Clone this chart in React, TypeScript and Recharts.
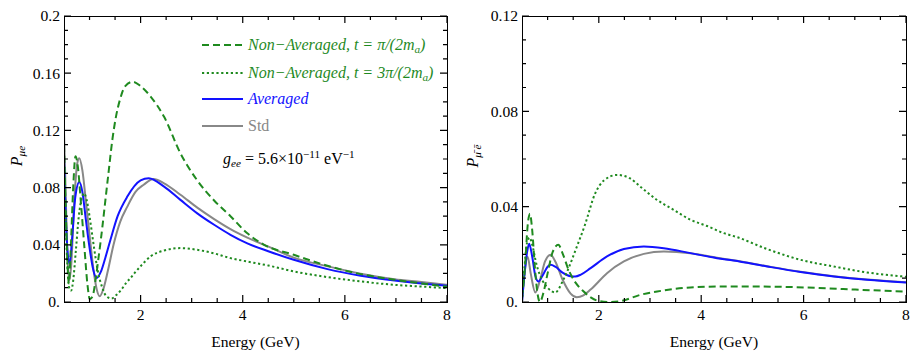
import React from 'react';
import { LineChart, Line, XAxis, YAxis } from 'recharts';

type Pt = [number, number];

// axis ticks
const energyTicks = [2, 4, 6, 8];
const energyMinorTicks = [1, 1.5, 2.5, 3, 3.5, 4.5, 5, 5.5, 6.5, 7, 7.5];
const leftPTicks = [0, 0.04, 0.08, 0.12, 0.16, 0.2];
const leftPMinorTicks = [0.01, 0.02, 0.03, 0.05, 0.06, 0.07, 0.09, 0.1, 0.11, 0.13, 0.14, 0.15, 0.17, 0.18, 0.19];
const rightPTicks = [0, 0.04, 0.08, 0.12];
const rightPMinorTicks = [0.01, 0.02, 0.03, 0.05, 0.06, 0.07, 0.09, 0.1, 0.11];

// left panel, P_mu e  [energy GeV, probability]
const leftNonAvg1: Pt[] = [
  [0.5, 0.11], [0.53, 0.07], [0.56, 0.035], [0.594, 0.013], [0.63, 0.035], [0.68, 0.08], [0.725, 0.102],
  [0.77, 0.095], [0.83, 0.07], [0.9, 0.038], [0.96, 0.012], [1.006, 0.002], [1.06, 0.004], [1.12, 0.016],
  [1.18, 0.032], [1.25, 0.052], [1.31, 0.071], [1.38, 0.093], [1.445, 0.113], [1.52, 0.13], [1.6, 0.142],
  [1.7, 0.151], [1.85, 0.154], [2.0, 0.151], [2.2, 0.1435], [2.46, 0.1295], [2.78, 0.104], [3.11, 0.085],
  [3.44, 0.071], [3.76, 0.06], [4.09, 0.048], [4.42, 0.04], [5.0, 0.033], [5.66, 0.0253], [6.31, 0.0195],
  [6.97, 0.0156], [7.5, 0.013], [8.0, 0.0107],
];
const leftNonAvg3: Pt[] = [
  [0.5, 0.095], [0.53, 0.06], [0.56, 0.03], [0.6, 0.01], [0.64, 0.008], [0.68, 0.015], [0.73, 0.035],
  [0.79, 0.06], [0.85, 0.073], [0.89, 0.076], [0.94, 0.072], [1.0, 0.06], [1.08, 0.04], [1.16, 0.022],
  [1.25, 0.01], [1.33, 0.004], [1.43, 0.0025], [1.53, 0.005], [1.63, 0.009], [1.72, 0.0135], [1.8, 0.0167],
  [1.9, 0.021], [2.0, 0.025], [2.2, 0.032], [2.46, 0.036], [2.78, 0.0377], [3.11, 0.0365], [3.44, 0.034],
  [3.76, 0.0307], [4.09, 0.0283], [4.5, 0.0255], [5.0, 0.0214], [5.66, 0.0174], [6.31, 0.0144],
  [6.97, 0.012], [7.5, 0.0108], [8.0, 0.0097],
];
const leftAveraged: Pt[] = [
  [0.5, 0.1], [0.53, 0.065], [0.57, 0.035], [0.61, 0.027], [0.66, 0.045], [0.72, 0.073], [0.8, 0.084],
  [0.86, 0.077], [0.93, 0.057], [1.0, 0.038], [1.07, 0.023], [1.14, 0.0167], [1.22, 0.021], [1.31, 0.031],
  [1.41, 0.0435], [1.55, 0.06], [1.74, 0.0737], [2.0, 0.085], [2.16, 0.0865], [2.46, 0.0807], [2.78, 0.0714],
  [3.11, 0.062], [3.44, 0.054], [3.76, 0.047], [4.09, 0.041], [4.5, 0.0355], [5.0, 0.0295], [5.66, 0.023],
  [6.31, 0.0184], [6.97, 0.0151], [7.5, 0.013], [8.0, 0.0114],
];
const leftStd: Pt[] = [
  [0.5, 0.12], [0.53, 0.08], [0.56, 0.04], [0.6, 0.015], [0.64, 0.025], [0.7, 0.07], [0.76, 0.097],
  [0.8, 0.1005], [0.86, 0.092], [0.93, 0.07], [1.0, 0.047], [1.08, 0.022], [1.14, 0.009], [1.2, 0.004],
  [1.27, 0.009], [1.36, 0.022], [1.47, 0.04], [1.6, 0.056], [1.74, 0.0667], [1.9, 0.077], [2.06, 0.082],
  [2.25, 0.086], [2.46, 0.083], [2.78, 0.075], [3.11, 0.066], [3.44, 0.058], [3.76, 0.051], [4.09, 0.045],
  [4.55, 0.038], [5.0, 0.031], [5.66, 0.025], [6.31, 0.0198], [6.97, 0.016], [7.5, 0.014], [8.0, 0.012],
];

// right panel
const rightNonAvg1: Pt[] = [
  [0.5, 0.002], [0.56, 0.015], [0.61, 0.032], [0.655, 0.037], [0.7, 0.03], [0.75, 0.015], [0.8, 0.004],
  [0.85, 0.0], [0.92, 0.004], [1.0, 0.012], [1.1, 0.021], [1.21, 0.024], [1.3, 0.02], [1.4, 0.014],
  [1.55, 0.008], [1.7, 0.0045], [1.85, 0.0018], [2.0, 0.0004], [2.2, 0.0], [2.45, 0.0005], [2.81, 0.003],
  [3.14, 0.0044], [3.79, 0.0061], [4.44, 0.0065], [5.0, 0.0065], [5.71, 0.0063], [6.5, 0.0057],
  [7.01, 0.0052], [8.0, 0.0044],
];
const rightNonAvg3: Pt[] = [
  [0.5, 0.0], [0.55, 0.015], [0.6, 0.025], [0.65, 0.027], [0.7, 0.024], [0.78, 0.016], [0.9, 0.009],
  [1.0, 0.006], [1.15, 0.004], [1.3, 0.009], [1.41, 0.0142], [1.55, 0.022], [1.73, 0.0324], [1.93, 0.0456],
  [2.1, 0.051], [2.36, 0.0533], [2.6, 0.052], [2.81, 0.0484], [3.14, 0.0428], [3.46, 0.0387], [3.79, 0.0345],
  [4.1, 0.032], [4.44, 0.0289], [4.7, 0.0272], [5.29, 0.0222], [5.94, 0.0177], [6.59, 0.0149],
  [7.24, 0.0124], [8.0, 0.0106],
];
const rightAveraged: Pt[] = [
  [0.5, 0.0], [0.55, 0.012], [0.6, 0.021], [0.64, 0.0244], [0.7, 0.019], [0.76, 0.011], [0.82, 0.0086],
  [0.9, 0.011], [1.0, 0.0148], [1.06, 0.0156], [1.15, 0.0148], [1.3, 0.0122], [1.45, 0.0108], [1.54, 0.0107],
  [1.65, 0.0115], [1.84, 0.0142], [2.16, 0.0191], [2.49, 0.0222], [2.88, 0.0233], [3.27, 0.0226],
  [3.79, 0.0205], [4.31, 0.0184], [4.63, 0.0174], [5.29, 0.0149], [5.94, 0.0126], [6.59, 0.0107],
  [7.24, 0.0093], [8.0, 0.0082],
];
const rightStd: Pt[] = [
  [0.5, 0.0], [0.55, 0.012], [0.61, 0.019], [0.67, 0.012], [0.76, 0.004], [0.85, 0.009], [0.95, 0.017],
  [1.06, 0.0198], [1.15, 0.017], [1.3, 0.009], [1.45, 0.0035], [1.57, 0.002], [1.7, 0.0028], [1.84, 0.0052],
  [2.16, 0.0121], [2.49, 0.017], [2.88, 0.0202], [3.27, 0.0212], [3.79, 0.0205], [4.31, 0.0186],
  [4.63, 0.0175], [5.29, 0.015], [5.94, 0.0127], [6.59, 0.0108], [7.24, 0.0094], [8.0, 0.0083],
];

const GREEN = '#1f8a1f';
const BLUE = '#1212ff';
const GRAY = '#888888';
const H = 356;
const PLOT_TOP = 16;
const PLOT_BOTTOM = 302;
const DASHED = '7 4';
const DOTTED = '2.2 2.6';

const MINUS = '\u2212';
const PI = '\u03C0';
const TIMES = '\u00D7';
const MU = '\u03BC';

const rows = (pts: Pt[]) => pts.map(([e, p]) => ({ e, p }));

const sub = { fontSize: '0.7em', verticalAlign: '-0.3em', lineHeight: 0 };
const sup = { fontSize: '0.7em', verticalAlign: '0.55em', lineHeight: 0 };

export default function App() {
  // left plot: x 64..447, right plot: x 67..451 inside its own chart
  const L = { plotLeft: 64, plotRight: 447 };
  const R = { plotLeft: 67, plotRight: 451 };

  const xTick = (props: any) => {
    const { x, payload } = props;
    const major = energyTicks.includes(payload.value);
    const len = major ? 7 : 4;
    return (
      <g>
        <path d={`M${x},${PLOT_BOTTOM}v${-len}M${x},${PLOT_TOP}v${len}`} stroke="#000" strokeWidth={1.2} fill="none" />
        {major && <text x={x} y={PLOT_BOTTOM + 18} textAnchor="middle" fill="#000" fontSize={15.6}>{payload.value}</text>}
      </g>
    );
  };
  const yTick = (geo: { plotLeft: number; plotRight: number }, majors: number[]) => (props: any) => {
    const { y, payload } = props;
    const major = majors.includes(payload.value);
    const len = major ? 7 : 4;
    return (
      <g>
        <path d={`M${geo.plotLeft},${y}h${len}M${geo.plotRight},${y}h${-len}`} stroke="#000" strokeWidth={1.2} fill="none" />
        {major && (
          <text x={geo.plotLeft - 4} y={y} dy="0.35em" textAnchor="end" fill="#000" fontSize={15.6}>
            {payload.value === 0 ? '0.' : String(payload.value)}
          </text>
        )}
      </g>
    );
  };
  const xAxis = (
    <XAxis
      xAxisId="e" dataKey="e" type="number" domain={[0.5, 8]} allowDataOverflow interval={0}
      ticks={[...energyMinorTicks, ...energyTicks].sort((a, b) => a - b)}
      height={50} axisLine={false} tickLine={false} tick={xTick}
      label={{ value: 'Energy (GeV)', position: 'insideBottom', offset: 5, style: { fill: '#000', fontSize: 15.6 } }}
    />
  );
  const frame = (geo: { plotLeft: number; plotRight: number }, offset: number) => (
    <div
      style={{
        position: 'absolute', left: offset + geo.plotLeft - 0.5, top: PLOT_TOP - 0.5,
        width: geo.plotRight - geo.plotLeft + 1, height: PLOT_BOTTOM - PLOT_TOP + 1,
        border: '1.2px solid #000', boxSizing: 'border-box', pointerEvents: 'none',
      }}
    />
  );
  const line = (data: Pt[], color: string, key: string, dash?: string) => (
    <Line
      key={key} xAxisId="e" yAxisId="p" data={rows(data)} dataKey="p" type="monotone"
      stroke={color} strokeWidth={2} strokeDasharray={dash} dot={false} activeDot={false} isAnimationActive={false}
    />
  );

  const legend = [
    { color: GREEN, dash: DASHED, top: 45, italic: true, label: <>{`Non${MINUS}Averaged, `}<i>t</i>{' = '}<i>{PI}</i>{'/(2'}<i>m</i><span style={sub}>a</span>{')'}</> },
    { color: GREEN, dash: DOTTED, top: 73, italic: true, label: <>{`Non${MINUS}Averaged, `}<i>t</i>{' = 3'}<i>{PI}</i>{'/(2'}<i>m</i><span style={sub}>a</span>{')'}</> },
    { color: BLUE, dash: undefined, top: 99, italic: true, label: <>Averaged</> },
    { color: GRAY, dash: undefined, top: 126, italic: false, label: <>Std</> },
  ];

  return (
    <div style={{ position: 'absolute', left: 0, top: 0, width: 915, height: H, background: '#fff' }}>
      <div style={{ position: 'absolute', left: 0, top: 0 }}>
        <LineChart width={455} height={H} margin={{ top: PLOT_TOP, right: 455 - L.plotRight, bottom: 4, left: 0 }}>
          {xAxis}
          <YAxis
            yAxisId="p" type="number" domain={[0, 0.2]} allowDataOverflow interval={0}
            ticks={[...leftPMinorTicks, ...leftPTicks].sort((a, b) => a - b)}
            width={L.plotLeft} axisLine={false} tickLine={false} tick={yTick(L, leftPTicks)}
          />
          {line(leftStd, GRAY, 'std')}
          {line(leftAveraged, BLUE, 'avg')}
          {line(leftNonAvg3, GREEN, 'na3', DOTTED)}
          {line(leftNonAvg1, GREEN, 'na1', DASHED)}
        </LineChart>
      </div>
      <div style={{ position: 'absolute', left: 455, top: 0 }}>
        <LineChart width={460} height={H} margin={{ top: PLOT_TOP, right: 460 - R.plotRight, bottom: 4, left: 0 }}>
          {xAxis}
          <YAxis
            yAxisId="p" type="number" domain={[0, 0.12]} allowDataOverflow interval={0}
            ticks={[...rightPMinorTicks, ...rightPTicks].sort((a, b) => a - b)}
            width={R.plotLeft} axisLine={false} tickLine={false} tick={yTick(R, rightPTicks)}
          />
          {line(rightStd, GRAY, 'std')}
          {line(rightAveraged, BLUE, 'avg')}
          {line(rightNonAvg3, GREEN, 'na3', DOTTED)}
          {line(rightNonAvg1, GREEN, 'na1', DASHED)}
        </LineChart>
      </div>
      {frame(L, 0)}
      {frame(R, 455)}

      {legend.map((r, i) => (
        <div key={i} style={{ position: 'absolute', left: 202, top: r.top - 10, height: 20, display: 'flex', alignItems: 'center' }}>
          <svg width={41} height={4} style={{ display: 'block' }}>
            <line x1={0} y1={2} x2={41} y2={2} stroke={r.color} strokeWidth={2} strokeDasharray={r.dash} />
          </svg>
          <span style={{ marginLeft: 5, color: r.color, fontStyle: r.italic ? 'italic' : 'normal', fontSize: 16, whiteSpace: 'nowrap' }}>
            {r.label}
          </span>
        </div>
      ))}

      <div style={{ position: 'absolute', left: 223, top: 150, fontSize: 16, color: '#000', whiteSpace: 'nowrap' }}>
        <i>g</i><i style={sub}>ee</i>{` = 5.6${TIMES}10`}<span style={sup}>{`${MINUS}11`}</span>{' eV'}<span style={sup}>{`${MINUS}1`}</span>
      </div>

      <div style={{ position: 'absolute', left: 17, top: 156, transform: 'translate(-50%, -50%) rotate(-90deg)', fontSize: 16, whiteSpace: 'nowrap' }}>
        <i>P</i><i style={sub}>{`${MU}e`}</i>
      </div>
      <div style={{ position: 'absolute', left: 473, top: 156, transform: 'translate(-50%, -50%) rotate(-90deg)', fontSize: 16, whiteSpace: 'nowrap' }}>
        <i>P</i><i style={sub}>{'\u03BC\u0304 e\u0304'}</i>
      </div>
    </div>
  );
}
